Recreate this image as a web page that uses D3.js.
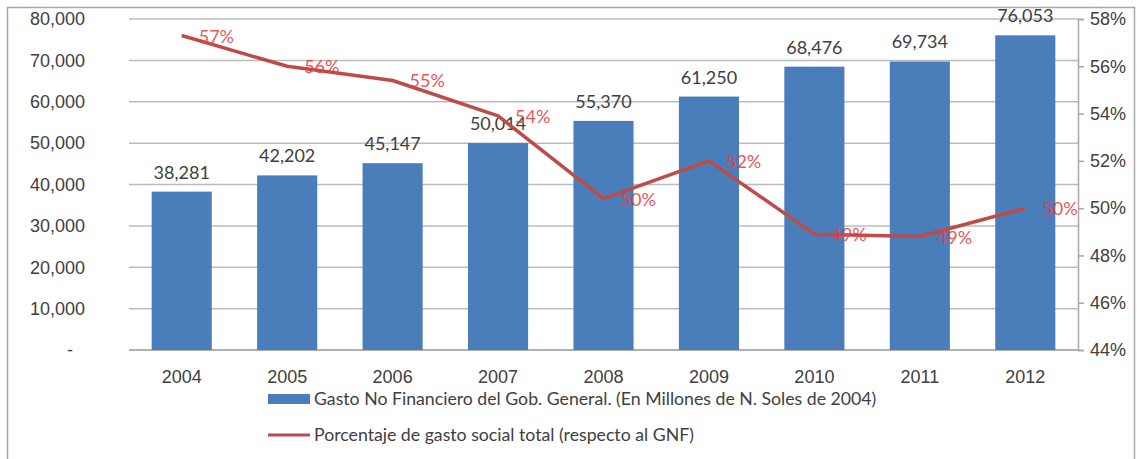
<!DOCTYPE html>
<html lang="es">
<head>
    <meta charset="UTF-8">
    <title>Gasto No Financiero y gasto social</title>
    <script src="https://d3js.org/d3.v7.min.js"></script>
    <style>
        body { margin: 0; background: #fff; }
        svg { font-family: Lato, "Open Sans", sans-serif; }
        .tick text { fill: #404040; font-size: 18px; }
        .grid line { stroke: #bcbcbc; stroke-width: 1.5; }
        .legend text { fill: #404040; font-size: 17.7px; }
    </style>
</head>
<body>
<script>
    const years = ['2004', '2005', '2006', '2007', '2008', '2009', '2010', '2011', '2012'];
    const gasto = [38281, 42202, 45147, 50014, 55370, 61250, 68476, 69734, 76053];
    const porcentaje = [0.573, 0.560, 0.554, 0.539, 0.504, 0.520, 0.489, 0.488, 0.500];
    const leftTicks = [0, 10000, 20000, 30000, 40000, 50000, 60000, 70000, 80000];
    const rightTicks = [0.44, 0.46, 0.48, 0.50, 0.52, 0.54, 0.56, 0.58];
    const legendLabels = [
        'Gasto No Financiero del Gob. General. (En Millones de N. Soles de 2004)',
        'Porcentaje de gasto social total (respecto al GNF)'
    ];

    const W = 1137, H = 459;
    const plot = {left: 129, right: 1078, top: 19, bottom: 350};

    const svg = d3.select('body').append('svg')
        .attr('width', W)
        .attr('height', H);

    // marco exterior
    svg.append('rect')
        .attr('x', 7.5).attr('y', 7.5)
        .attr('width', 1127).attr('height', 470)
        .attr('fill', 'none')
        .attr('stroke', '#a6a6a6')
        .attr('stroke-width', 1.5);

    const x = d3.scaleBand()
        .domain(years)
        .range([plot.left, plot.right])
        .paddingInner(0.43)
        .paddingOuter(0.215);

    const y = d3.scaleLinear()
        .domain([0, 80000])
        .range([plot.bottom, plot.top]);

    const y2 = d3.scaleLinear()
        .domain([0.44, 0.58])
        .range([plot.bottom, plot.top]);

    // grid
    svg.append('g')
        .attr('class', 'grid')
        .selectAll('line')
        .data(leftTicks)
        .join('line')
        .attr('x1', plot.left)
        .attr('x2', plot.right)
        .attr('y1', d => y(d))
        .attr('y2', d => y(d));

    // eje izquierdo
    const leftAxis = svg.append('g')
        .attr('transform', `translate(${plot.left - 44},0)`)
        .call(d3.axisLeft(y)
            .tickValues(leftTicks)
            .tickSize(0)
            .tickPadding(0)
            .tickFormat(d => d === 0 ? '-' : d3.format(',')(d)));
    leftAxis.select('.domain').remove();
    leftAxis.selectAll('.tick text').filter(d => d === 0).attr('dx', -12);

    // eje derecho
    const rightAxis = svg.append('g')
        .attr('transform', `translate(${plot.right},0)`)
        .call(d3.axisRight(y2)
            .tickValues(rightTicks)
            .tickSize(6)
            .tickPadding(6)
            .tickFormat(d3.format('.0%')));
    rightAxis.select('.domain').attr('stroke', '#a6a6a6').attr('stroke-width', 1.5);
    rightAxis.selectAll('.tick line').attr('stroke', '#a6a6a6').attr('stroke-width', 1.5);

    // eje x
    const bottomAxis = svg.append('g')
        .attr('transform', `translate(0,${plot.bottom})`)
        .call(d3.axisBottom(x).tickSize(0).tickPadding(20));
    bottomAxis.select('.domain')
        .attr('stroke', '#a6a6a6')
        .attr('stroke-width', 1.5)
        .attr('d', `M${plot.left},0H${plot.right}`);

    // barras
    svg.append('g')
        .selectAll('rect')
        .data(gasto)
        .join('rect')
        .attr('x', (d, i) => x(years[i]))
        .attr('y', d => y(d))
        .attr('width', x.bandwidth())
        .attr('height', d => y(0) - y(d))
        .attr('fill', '#4a7ebb');

    svg.append('g')
        .selectAll('text')
        .data(gasto)
        .join('text')
        .attr('x', (d, i) => x(years[i]) + x.bandwidth() / 2)
        .attr('y', d => y(d) - 13)
        .attr('text-anchor', 'middle')
        .attr('fill', '#404040')
        .attr('font-size', 18)
        .text(d => d3.format(',')(d));

    // línea
    const line = d3.line()
        .x((d, i) => x(years[i]) + x.bandwidth() / 2)
        .y(d => y2(d));

    svg.append('path')
        .datum(porcentaje)
        .attr('d', line)
        .attr('fill', 'none')
        .attr('stroke', '#be4b48')
        .attr('stroke-width', 3.5)
        .attr('stroke-linejoin', 'round');

    svg.append('g')
        .selectAll('text')
        .data(porcentaje)
        .join('text')
        .attr('x', (d, i) => x(years[i]) + x.bandwidth() / 2 + 17)
        .attr('y', d => y2(d) + 7)
        .attr('fill', '#ee3b44')
        .attr('fill-opacity', 0.9)
        .attr('font-size', 18)
        .text(d => d3.format('.0%')(d));

    // leyenda
    const legend = svg.append('g').attr('class', 'legend');
    legend.append('rect')
        .attr('x', 268).attr('y', 394)
        .attr('width', 42).attr('height', 10)
        .attr('fill', '#4a7ebb');
    legend.append('line')
        .attr('x1', 268).attr('x2', 310)
        .attr('y1', 435).attr('y2', 435)
        .attr('stroke', '#be4b48')
        .attr('stroke-width', 3);
    legend.selectAll('text')
        .data(legendLabels)
        .join('text')
        .attr('x', 314)
        .attr('y', (d, i) => 405 + i * 36)
        .text(d => d);
</script>
</body>
</html>
